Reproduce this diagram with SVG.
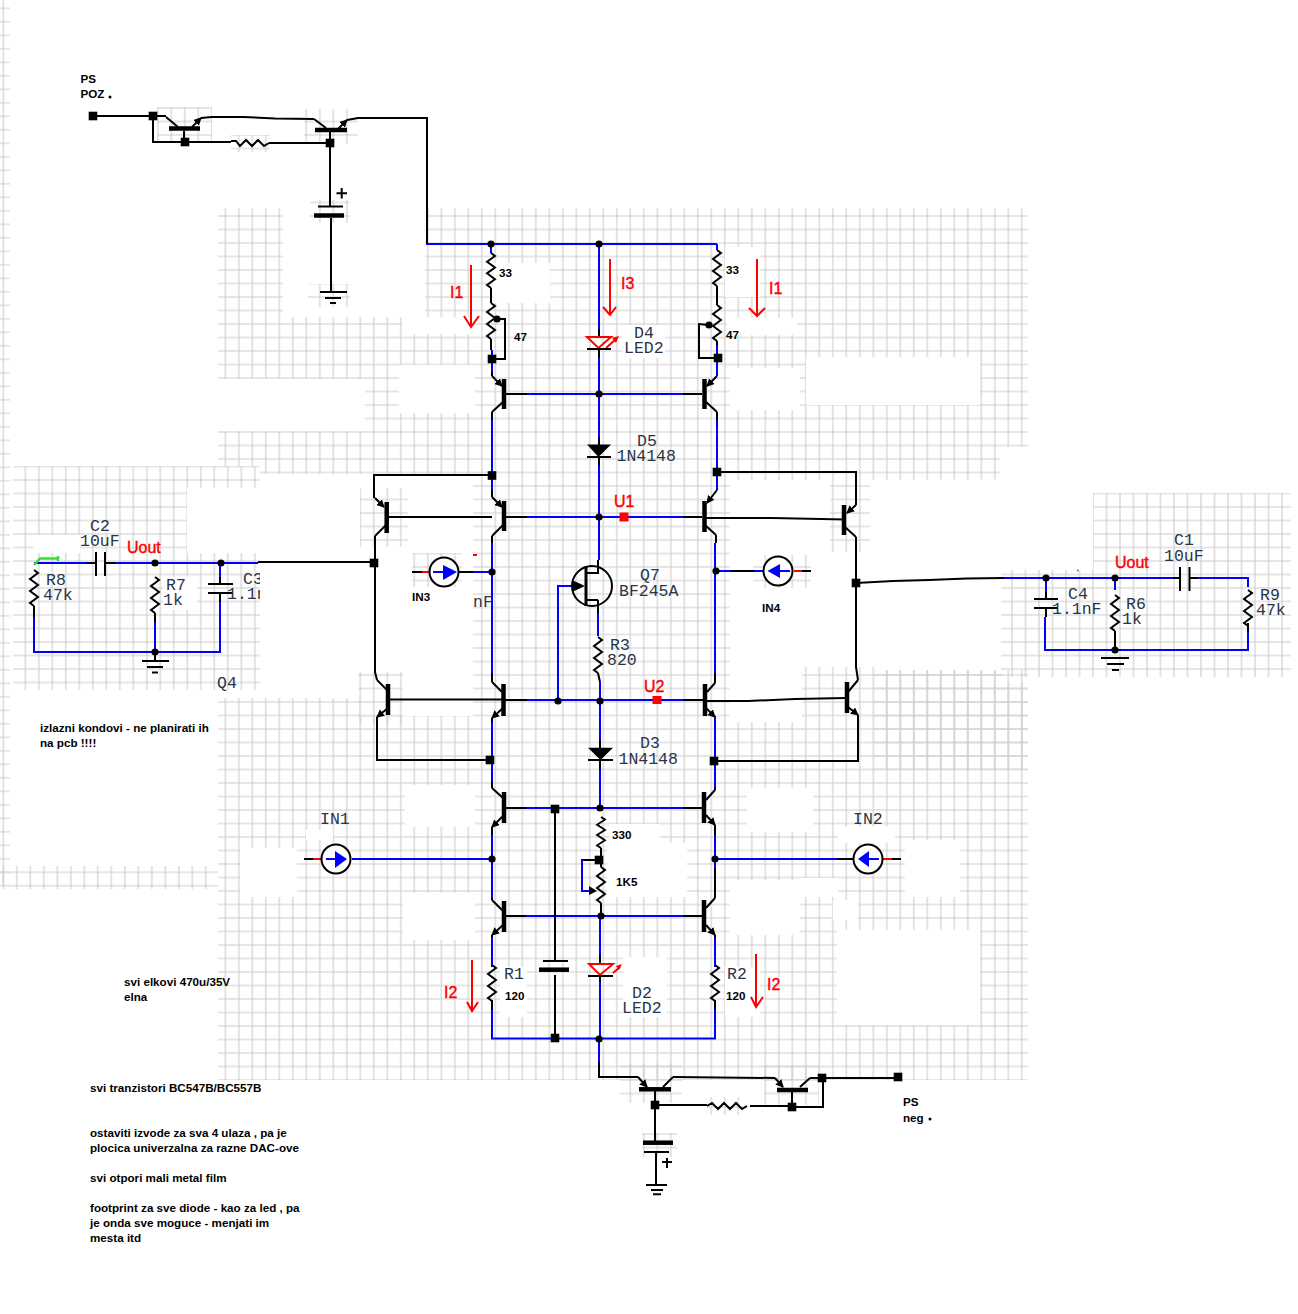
<svg xmlns="http://www.w3.org/2000/svg" width="1298" height="1314" viewBox="0 0 1298 1314">
<style>
.k{fill:none;stroke:#000;stroke-width:2}
.u{fill:none;stroke:#00f;stroke-width:2}
.e{fill:none;stroke:#f00;stroke-width:2}
.bar{fill:none;stroke:#000;stroke-width:4.5}
.em{marker-end:url(#ah)}
.z{fill:none;stroke:#000;stroke-width:2;vector-effect:non-scaling-stroke}
.m{font:16.5px "Liberation Mono",monospace;fill:#2a3448}
.l{font:bold 11.650px "Liberation Sans",Arial,sans-serif;fill:#000}
.t{font:16px "Liberation Sans",Arial,sans-serif;fill:#f00;stroke:#f00;stroke-width:.4}
.wh{fill:#fff}
</style>
<defs>
<pattern id="gm" patternUnits="userSpaceOnUse" x="2.55" y="-6.75" width="13.5" height="13.5"><path d="M6.75 0V13.5M0 6.75H13.5" stroke="#cdcdcd" stroke-width="1.1" fill="none"/></pattern>
<pattern id="gc" patternUnits="userSpaceOnUse" x="5.05" y="0.75" width="13.5" height="13.5"><path d="M6.75 0V13.5M0 6.75H13.5" stroke="#cdcdcd" stroke-width="1.1" fill="none"/></pattern>
<pattern id="gd" patternUnits="userSpaceOnUse" x="6.25" y="0.75" width="13.5" height="13.5"><path d="M6.75 0V13.5M0 6.75H13.5" stroke="#cdcdcd" stroke-width="1.1" fill="none"/></pattern>
<pattern id="gl" patternUnits="userSpaceOnUse" x="-3.45" y="1.55" width="13.5" height="13.5"><path d="M6.75 0V13.5M0 6.75H13.5" stroke="#cdcdcd" stroke-width="1.1" fill="none"/></pattern>
<marker id="ah" markerUnits="userSpaceOnUse" markerWidth="10" markerHeight="10" refX="7" refY="4" orient="auto"><path d="M0 0L8 4L0 8Z" fill="#000"/></marker>
<path id="res" d="M0 0l4 3-8 6 8 6-8 6 8 6-8 6 4 3"/>
<rect id="sq" x="-4.3" y="-4.3" width="8.6" height="8.6"/>
<circle id="dot" r="3.6"/>
<clipPath id="cl"><rect x="0" y="560" width="260" height="60"/></clipPath>
</defs>

<g id="grid">
<rect x="218" y="208" width="810" height="872" fill="url(#gm)"/>
<g class="wh">
<rect x="283" y="208" width="142" height="109"/>
<rect x="402" y="317" width="68" height="17"/>
<rect x="218" y="379" width="147" height="52"/>
<rect x="399" y="365" width="76" height="48"/>
<rect x="210" y="466" width="50" height="8"/>
<rect x="260" y="474" width="213" height="224"/>
<rect x="218" y="474" width="42" height="224"/>
<rect x="360" y="698" width="113" height="18"/>
<rect x="493" y="263" width="57" height="40"/>
<rect x="725" y="247" width="35" height="50"/>
<rect x="727" y="318" width="70" height="17"/>
<rect x="730" y="368" width="70" height="42"/>
<rect x="806" y="357" width="174" height="48"/>
<rect x="622" y="325" width="43" height="33"/>
<rect x="1000" y="447" width="28" height="46"/>
<rect x="730" y="480" width="273" height="190"/>
<rect x="1003" y="493" width="25" height="190"/>
<rect x="730" y="670" width="73" height="52"/>
<rect x="803" y="670" width="71" height="60"/>
<rect x="747" y="788" width="66" height="44"/>
<rect x="838" y="827" width="57" height="16"/>
<rect x="905" y="840" width="55" height="57"/>
<rect x="730" y="880" width="70" height="55"/>
<rect x="800" y="878" width="38" height="19"/>
<rect x="833" y="900" width="25" height="20"/>
<rect x="837" y="930" width="143" height="95"/>
<rect x="725" y="967" width="35" height="50"/>
<rect x="500" y="967" width="27" height="50"/>
<rect x="623" y="957" width="44" height="60"/>
<rect x="607" y="843" width="80" height="54"/>
<rect x="610" y="824" width="50" height="20"/>
<rect x="405" y="785" width="70" height="42"/>
<rect x="403" y="893" width="72" height="47"/>
<rect x="240" y="848" width="57" height="49"/>
<rect x="306" y="830" width="27" height="10"/>
</g>
<rect x="13" y="466" width="247" height="224" fill="url(#gc)"/>
<g class="wh">
<rect x="187" y="488" width="73" height="65"/>
<rect x="34" y="535" width="46" height="18"/>
<rect x="163" y="577" width="34" height="33"/>
</g>
<rect x="1001" y="570" width="290" height="107" fill="url(#gd)"/>
<rect x="1093" y="493" width="198" height="77" fill="url(#gd)"/>
<rect x="0" y="0" width="10" height="885" fill="url(#gl)"/>
<rect x="0" y="866" width="218" height="23" fill="url(#gl)"/>
<g fill="url(#gm)">
<rect x="157" y="107" width="55" height="35"/>
<rect x="304" y="109" width="54" height="35"/>
<rect x="231" y="135" width="39" height="17"/>
<rect x="310" y="200" width="40" height="23"/>
<rect x="308" y="284" width="42" height="23"/>
<rect x="360" y="488" width="48" height="59"/>
<rect x="358" y="672" width="45" height="53"/>
<rect x="412" y="553" width="50" height="34"/>
<rect x="830" y="480" width="40" height="72"/>
<rect x="753" y="555" width="58" height="33"/>
<rect x="802" y="667" width="72" height="63"/>
<rect x="874" y="670" width="154" height="100"/>
<rect x="620" y="1063" width="62" height="40"/>
<rect x="764" y="1065" width="55" height="40"/>
<rect x="707" y="1097" width="40" height="18"/>
<rect x="642" y="1133" width="35" height="24"/>
</g>
</g>

<g id="connectors">
<path class="k" d="M93 116H166M153 116V142H185M184 131V142H231M269 143H330M330 131V206M331 218V291"/>
<path class="k" d="M201 118L212 117H243L275 118.500L314 119M347 120L358 118H427V244"/>
<path class="u" d="M426 244H717"/>
<path class="u" d="M491 244V253M492 350V376M599 244V329M599 357V437M599 466V560M598 613V636M600 682V740M600 769V808M600 916V955M600 975V1039M599 1039V1062M492 420V490M492 543V673M492 722V781M492 835V898M492 935V967M492 1010V1038.500H715V1010M715 967V935"/>
<path class="u" d="M717 244V250M717 345V376M717 420V489M715 543V673M715 716V787M715 835V868M558 701V586H572"/>
<path class="k" d="M491 288V303M491 339V350M717 286V305M717 341V345M601 860V867M34 606V617"/>
<path class="k" d="M599 329V337M599 349V357M599 437V445M599 457V466M598 560V566M598 600V613M598 673L600 682M600 740V748M600 760V769M600 955V964M600 976V982"/>
<path class="k" d="M492 376V372M492 412V420M492 490V497M492 536V543M492 673V682M492 718V722M492 781V788M492 827V835M492 898V900M492 935V937M492 1000V1010M715 1000V1010"/>
<path class="k" d="M717 412V420M717 489V490M716 535V543M715 673V683M715 716V717M715 787V790M715 825V835M715 868V898M715 935V937"/>
<path class="k" d="M505 394H527M683 394H702M505 517H527M683 517H702M505 700H527M683 700H703M505 808H526M683 808H702M505 916H526M683 916H702"/>
<path class="u" d="M527 394H683M527 517H683M527 700H683M526 808H683M526 916H683"/>
<path class="k" d="M497 319H505V359H492M709 325L699 324V358H717"/>
<path class="k" d="M492 475H374V498M375 536V672L377 680M387 517H492M389 699.500H502M377 717V760H490"/>
<path class="k" d="M717 472H856V505M856 537V667L858 680M706 518H772L845 519.500M707 701H748L795 699L846 698M858 715V761H714"/>
<path class="k" d="M856 583L893 581L929 580L967 578.500L1004 578M258 562H374"/>
<path class="u" d="M34 563H87M115 563H258M34 617V652H220V602M155 622V652M220 563V577M1004 578H1173M1198 578H1248V587M1248 632V650H1045V617M1046 578V592M1115 578V590"/>
<path class="k" d="M87 563H96M105 563H115M1173 578H1180M1189.500 578H1198M34 608V617M155 613V622M220 577V584M220 593V602M1115 631V647M1248 623V632M1046 592V599M1046 608V617"/>
<path d="M34 565L40 558.500H58M58 556V561" fill="none" stroke="#2ee52e" stroke-width="2.400"/>
<path class="k" d="M412 572H422M459 572H473M837 859H853M892 859H901M304 859H313M731 571H754"/>
<path class="e" d="M422 572H429M883 859H892M313 859H321M794 571H802"/>
<path class="u" d="M473 572H492M716 571H731M754 571H764M352 859H492M715 859H837"/>
<path class="k" d="M802 571H811M555 809V961M555 975V1038M581 860H599M655 1105V1143M656 1152V1185"/>
<path class="u" d="M582 860V891H590"/>
<path class="k" d="M599 1062V1077H638M673 1077L775 1078M810 1078H898M655 1089V1105H707M750 1106H792V1090M792 1107H823V1078"/>
</g>

<g id="PSpos"><use href="#sq" x="93" y="116"/><text class="l" x="80.500" y="83">PS</text><text class="l" x="80.500" y="98">POZ</text><circle cx="110" cy="97" r="1.500"/></g>
<g id="T1"><path class="k" d="M166 117L178 127"/><path class="k em" d="M192 127L201 118"/><path class="bar" d="M169 128.500H200"/></g>
<g id="T2"><path class="k" d="M314 119L326 128"/><path class="k em" d="M338 129L347 120"/><path class="bar" d="M315 130H347"/></g>
<g id="Rtop"><path class="z" d="M231 141H236L240 146L246 140L252 146L258 140L264 146L269 143"/></g>
<g id="Ctop"><path class="k" d="M318 206.500H343"/><path class="bar" d="M314 215.500H344"/><path d="M341.700 188V198.500M336.500 193.300H347" stroke="#000" stroke-width="2" fill="none"/></g>
<g id="GNDtop"><path class="k" d="M320 292H347M325 298H341"/><path class="k" d="M330 303H336"/></g>
<g id="nodes-top"><use href="#sq" x="153" y="116"/><use href="#sq" x="185" y="142"/><use href="#sq" x="330" y="143"/><use href="#dot" x="491" y="244"/><use href="#dot" x="599" y="244"/></g>

<g id="R33L"><use class="z" href="#res" transform="translate(491 253) scale(1 .97)"/><text class="l" x="499" y="277">33</text></g>
<g id="R47L"><use class="z" href="#res" transform="translate(491 303) scale(1 1)"/><use href="#dot" x="497" y="319"/><use href="#sq" x="492" y="359"/><text class="l" x="514" y="341">47</text></g>
<g id="R33R"><use class="z" href="#res" transform="translate(717 250) scale(1 1)"/><text class="l" x="726" y="274">33</text></g>
<g id="R47R"><use class="z" href="#res" transform="translate(717 305) scale(1 1)"/><use href="#dot" x="709" y="325"/><use href="#sq" x="718" y="358"/><text class="l" x="726" y="339">47</text></g>
<g id="I1L"><path class="e" d="M471 265V327M464 316L471 327L479 316"/><text class="t" x="450" y="298">I1</text></g>
<g id="I3"><path class="e" d="M610 259V315M603 307L610 315L616 307"/><text class="t" x="621" y="289">I3</text></g>
<g id="I1R"><path class="e" d="M757 259V316M749 308L757 316L765 308"/><text class="t" x="769" y="294">I1</text></g>
<g id="D4"><path class="e" d="M587 337H611L598.500 348ZM606 348L616 339"/><path d="M619 336L612 338L616 343Z" fill="#f00"/><path class="k" d="M587 349H611"/><text class="m" x="634" y="338">D4</text><text class="m" x="624" y="353">LED2</text></g>
<g id="D5"><path d="M587 444.500H611L598.500 457Z"/><path class="k" d="M587 457H611"/><text class="m" x="637" y="446">D5</text><text class="m" x="616.500" y="461">1N4148</text></g>
<g id="Qa"><path class="bar" d="M504 379V409"/><path class="k em" d="M492 376L502 386"/><path class="k" d="M504 401L492 412"/></g>
<g id="Qb"><path class="bar" d="M504 501V531"/><path class="k em" d="M492 497L502 507"/><path class="k" d="M503 525L492 536"/></g>
<g id="Qc"><path class="bar" d="M503.500 684V716"/><path class="k" d="M492 682L502 692"/><path class="k em" d="M503 708L492 718"/></g>
<g id="Qd"><path class="bar" d="M504 792V823"/><path class="k" d="M492 788L503 798"/><path class="k em" d="M503 816L492 827"/></g>
<g id="Qe"><path class="bar" d="M504 901V932"/><path class="k" d="M492 900L503 911"/><path class="k em" d="M503 925L492 935"/></g>
<g id="Qf"><path class="bar" d="M704.500 379V409"/><path class="k em" d="M717 376L707 386"/><path class="k" d="M705 401L717 412"/></g>
<g id="Qg"><path class="bar" d="M704.500 501V532"/><path class="k em" d="M717 490L707 503"/><path class="k" d="M705 525L716 535"/></g>
<g id="Qh"><path class="bar" d="M705 684V716"/><path class="k" d="M715 683L707 692"/><path class="k em" d="M706 708L715 717"/></g>
<g id="Qi"><path class="bar" d="M704 792V823"/><path class="k" d="M715 790L706 800"/><path class="k em" d="M706 815L715 825"/></g>
<g id="Qj"><path class="bar" d="M704 900V932"/><path class="k" d="M715 898L706 908"/><path class="k em" d="M706 925L715 935"/></g>
<g id="Qk"><path class="bar" d="M386.700 502V533"/><path class="k em" d="M375 498L384 507"/><path class="k" d="M386 525L375 536"/></g>
<g id="Ql"><path class="bar" d="M388 684V715"/><path class="k" d="M377 680L387 690"/><path class="k em" d="M388 708L377 717"/></g>
<g id="Qm"><path class="bar" d="M844 505V535"/><path class="k em" d="M856 505L847 513"/><path class="k" d="M845 527L856 537"/></g>
<g id="Qn"><path class="bar" d="M847 682V713"/><path class="k" d="M858 680L848 692"/><path class="k em" d="M848 707L858 715"/></g>
<g id="nodes-mid"><use href="#dot" x="599" y="394"/><use href="#dot" x="599" y="517"/><use href="#dot" x="558" y="701"/><use href="#dot" x="600" y="701"/><use href="#sq" x="492" y="475.500"/><use href="#sq" x="717" y="472"/><use href="#sq" x="374" y="563"/><use href="#sq" x="856" y="583"/><use href="#sq" x="490" y="760"/><use href="#sq" x="714" y="761"/><use href="#dot" x="492" y="572"/><use href="#dot" x="716" y="571"/><use href="#dot" x="492" y="859"/><use href="#dot" x="715" y="859"/><use href="#dot" x="600" y="808"/><use href="#dot" x="601" y="916"/><use href="#dot" x="599" y="1039"/><use href="#sq" x="555" y="809"/><use href="#sq" x="555" y="1038"/><use href="#sq" x="599" y="860"/></g>
<g id="U1"><rect x="619.500" y="512.500" width="9" height="9" fill="#f00"/><text class="t" x="614" y="507">U1</text></g>
<g id="U2"><rect x="652.500" y="696" width="9" height="8" fill="#f00"/><text class="t" x="644" y="692">U2</text></g>
<g id="Q7"><circle cx="592" cy="586" r="20" fill="none" stroke="#000" stroke-width="2"/><path class="k" d="M598 566V573H586M586 600H598"/><path d="M586 567V606" stroke="#000" stroke-width="3"/><path d="M572 580L585 586L572 592Z"/><text class="m" x="640" y="580">Q7</text><text class="m" x="619" y="596">BF245A</text></g>
<g id="R3"><use class="z" href="#res" transform="translate(598 637)"/><text class="m" x="610" y="650">R3</text><text class="m" x="607" y="665">820</text></g>
<g id="D3"><path d="M588 747.700H613L600.500 760Z"/><path class="k" d="M588 760H613"/><text class="m" x="640" y="748">D3</text><text class="m" x="618.500" y="763.500">1N4148</text></g>
<g id="IN3"><circle cx="444" cy="572" r="14.500" fill="#fff" stroke="#000" stroke-width="2"/><path class="u" d="M433 572H445"/><path d="M443 565L457 572L443 580Z" fill="#00f"/><text class="l" x="412" y="600.500">IN3</text><path class="e" d="M473 555H477"/><text class="m" x="473" y="607">nF</text></g>
<g id="IN4"><circle cx="778" cy="571" r="14.500" fill="#fff" stroke="#000" stroke-width="2"/><path class="u" d="M778 571H790"/><path d="M767.500 571L780 564V578Z" fill="#00f"/><text class="l" x="762" y="612">IN4</text></g>
<g id="IN1"><circle cx="336" cy="859" r="14.500" fill="#fff" stroke="#000" stroke-width="2"/><path class="u" d="M326 859H337"/><path d="M335 851L347 859L335 868Z" fill="#00f"/><text class="m" x="320" y="824">IN1</text></g>
<g id="IN2"><circle cx="868" cy="859" r="14.500" fill="#fff" stroke="#000" stroke-width="2"/><path class="u" d="M867 859H879"/><path d="M858 859L869 851V867Z" fill="#00f"/><text class="m" x="853" y="824">IN2</text></g>
<g id="R330"><use class="z" href="#res" transform="translate(601 817) scale(1 .86)"/><path class="k" d="M601 848V856"/><text class="l" x="612" y="839">330</text></g>
<g id="R1K5"><use class="z" href="#res" transform="translate(601 867) scale(1 1)"/><path class="k" d="M601 903V916"/><path d="M589 886L597 891L589 895Z"/><text class="l" x="616" y="886">1K5</text></g>
<g id="C5"><path class="k" d="M543 961H568"/><path class="bar" d="M539 969.700H569"/></g>
<g id="D2"><path class="e" d="M589 964H613L600 975ZM613 973L620 967"/><path d="M622 964L616 966L619 970Z" fill="#f00"/><path class="k" d="M588 976H613"/><text class="m" x="632" y="998">D2</text><text class="m" x="622" y="1013">LED2</text></g>
<g id="R1"><use class="z" href="#res" transform="translate(492 965)"/><text class="m" x="504" y="979">R1</text><text class="l" x="505" y="1000">120</text></g>
<g id="R2"><use class="z" href="#res" transform="translate(715 965)"/><text class="m" x="727" y="979">R2</text><text class="l" x="726" y="1000">120</text></g>
<g id="I2L"><path class="e" d="M472 960V1011M467 1002L472 1011L478 1002"/><text class="t" x="444" y="998">I2</text></g>
<g id="I2R"><path class="e" d="M756 954V1007M751 997L756 1007L763 997"/><text class="t" x="767" y="990">I2</text></g>

<g id="T3"><path class="k em" d="M638 1077L647 1087"/><path class="bar" d="M639 1089.300H671"/><path class="k" d="M663 1087L673 1077"/></g>
<g id="T4"><path class="k em" d="M775 1078L783 1087"/><path class="bar" d="M777 1090H808"/><path class="k" d="M800 1087L810 1078"/></g>
<g id="Rbot"><path class="z" d="M707 1106L712 1103L718 1109L724 1103L730 1109L736 1103L742 1109L747 1106"/></g>
<g id="Cbot"><path class="bar" d="M643 1142.700H673"/><path class="k" d="M644 1152H669"/><path class="k" d="M667 1158V1168M662 1162H672"/></g>
<g id="GNDbot"><path class="k" d="M646 1185H667M651 1190H663M653 1194.300H661"/></g>
<g id="nodes-bot"><use href="#sq" x="655" y="1105"/><use href="#sq" x="792" y="1107"/><use href="#sq" x="822" y="1078"/></g>
<g id="PSneg"><use href="#sq" x="898" y="1077"/><text class="l" x="903" y="1106">PS</text><text class="l" x="903" y="1122">neg</text><circle cx="930" cy="1119" r="1.500"/></g>

<g id="C2"><path class="k" d="M96 552V576M105 552V576"/><text class="m" x="90" y="531">C2</text><text class="m" x="80" y="546">10uF</text></g>
<g id="R8"><use class="z" href="#res" transform="translate(34 570)"/><text class="m" x="46" y="585">R8</text><text class="m" x="43" y="600">47k</text></g>
<g id="R7"><use class="z" href="#res" transform="translate(155 577)"/><text class="m" x="166" y="590">R7</text><text class="m" x="163" y="605">1k</text></g>
<g id="C3"><path class="k" d="M208 584H233M208 593H233"/><text class="m" x="243" y="584" clip-path="url(#cl)">C3</text><text class="m" x="227" y="599" clip-path="url(#cl)">1.1n</text></g>
<g id="GNDl"><path class="k" d="M155 652V661M142 661H169M147 667H163M152 672.500H158"/></g>
<g id="nodes-l"><use href="#dot" x="155" y="563"/><use href="#dot" x="221" y="563"/><use href="#dot" x="155" y="652"/></g>
<text class="t" x="127" y="553">Uout</text>
<text class="m" x="217" y="688">Q4</text>

<g id="C1"><path class="k" d="M1180 567V591M1189.500 567V591"/><text class="m" x="1174" y="545">C1</text><text class="m" x="1164" y="561">10uF</text></g>
<g id="R9"><use class="z" href="#res" transform="translate(1248 590)"/><text class="m" x="1260" y="600">R9</text><text class="m" x="1256" y="615">47k</text></g>
<g id="R6"><use class="z" href="#res" transform="translate(1115 595)"/><text class="m" x="1126" y="609">R6</text><text class="m" x="1122" y="624">1k</text></g>
<g id="C4"><path class="k" d="M1034 599H1058M1034 608H1058"/><text class="m" x="1068" y="599">C4</text><text class="m" x="1052" y="614">1.1nF</text></g>
<g id="GNDr"><path class="k" d="M1101 658H1129M1107 664H1124M1112 670H1119"/></g>
<g id="nodes-r"><use href="#dot" x="1046" y="578"/><use href="#dot" x="1115" y="578"/><use href="#dot" x="1115" y="650"/></g>
<text class="t" x="1115" y="568">Uout</text>
<path d="M1077 570.500h1.500" stroke="#f00" stroke-width="1.500"/>

<g id="notes">
<text class="l" x="40" y="732">izlazni kondovi - ne planirati ih</text>
<text class="l" x="40" y="747">na pcb !!!!</text>
<text class="l" x="124" y="986">svi elkovi 470u/35V</text>
<text class="l" x="124" y="1001">elna</text>
<text class="l" x="90" y="1092">svi tranzistori BC547B/BC557B</text>
<text class="l" x="90" y="1137">ostaviti izvode za sva 4 ulaza , pa je</text>
<text class="l" x="90" y="1152">plocica univerzalna za razne DAC-ove</text>
<text class="l" x="90" y="1182">svi otpori mali metal film</text>
<text class="l" x="90" y="1212">footprint za sve diode - kao za led , pa</text>
<text class="l" x="90" y="1227">je onda sve moguce - menjati im</text>
<text class="l" x="90" y="1242">mesta itd</text>
</g>
</svg>
